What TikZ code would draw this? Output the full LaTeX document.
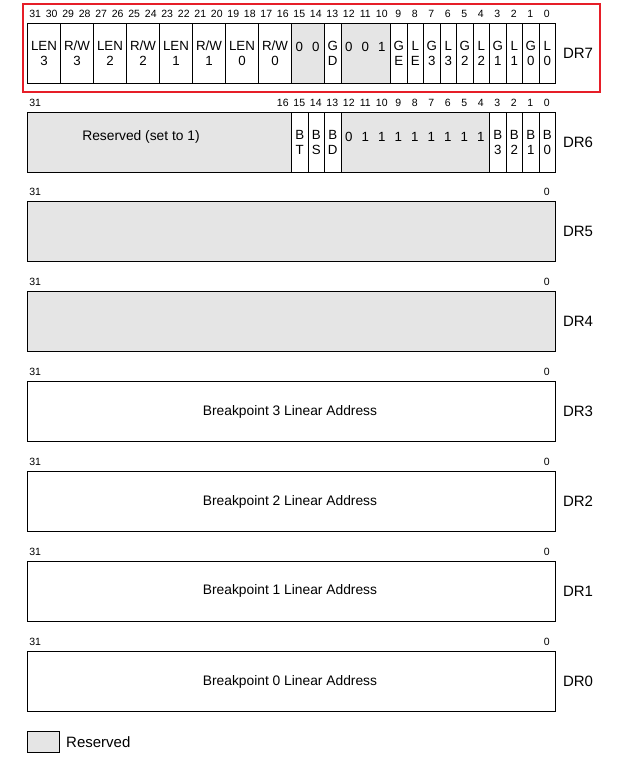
\documentclass[tikz,border=0pt]{standalone}
\usepackage{fontspec}
\setmainfont{Liberation Sans}
\definecolor{resgray}{RGB}{229,229,229}
\definecolor{hired}{RGB}{230,30,40}
\tikzset{
  fld/.style={draw=black, line width=0.9pt, inner sep=0pt, anchor=north west, font=\fontsize{13.3}{15}\selectfont, align=center},
  wfld/.style={fld, fill=white},
  gfld/.style={fld, fill=resgray},
  bitnum/.style={inner sep=0pt, font=\fontsize{10.5}{12}\selectfont},
  ftext/.style={inner sep=0pt, font=\fontsize{13.3}{15}\selectfont},
  longtext/.style={inner sep=0pt, font=\fontsize{13.8}{16}\selectfont},
  reglabel/.style={inner sep=0pt, font=\fontsize{15}{17}\selectfont},
  hilite/.style={draw=hired, line width=2pt}
}
\newcommand{\fld}[6]{%
  \pgfmathsetmacro\fxl{555-16.5*(#2+1)}%
  \pgfmathsetmacro\fw{16.5*(#2-#3+1)}%
  \node[#5, minimum width=\fw pt, minimum height=60pt] (#1) at (\fxl,#4) {#6};%
}
\newcommand{\bitlbl}[3]{% name, bit, y
  \pgfmathsetmacro\bcx{555-16.5*#2-8.25}%
  \node[bitnum] (#1) at (\bcx,#3) {#2};%
}
\newcommand{\bittxt}[4]{% name, bit, y, text
  \pgfmathsetmacro\bcx{555-16.5*#2-8.25}%
  \node[ftext] (#1) at (\bcx,#3) {#4};%
}
\begin{document}
\begin{tikzpicture}[x=1pt,y=-1pt]
\useasboundingbox (0,0) rectangle (632,758);

% ---------------- DR7 ----------------
\fld{d7len3}{31}{30}{23}{wfld}{LEN\\3}
\fld{d7rw3}{29}{28}{23}{wfld}{R/W\\3}
\fld{d7len2}{27}{26}{23}{wfld}{LEN\\2}
\fld{d7rw2}{25}{24}{23}{wfld}{R/W\\2}
\fld{d7len1}{23}{22}{23}{wfld}{LEN\\1}
\fld{d7rw1}{21}{20}{23}{wfld}{R/W\\1}
\fld{d7len0}{19}{18}{23}{wfld}{LEN\\0}
\fld{d7rw0}{17}{16}{23}{wfld}{R/W\\0}
\fld{d7res1}{15}{14}{23}{gfld}{}
\fld{d7gd}{13}{13}{23}{wfld}{G\\D}
\fld{d7res2}{12}{10}{23}{gfld}{}
\fld{d7ge}{9}{9}{23}{wfld}{G\\E}
\fld{d7le}{8}{8}{23}{wfld}{L\\E}
\fld{d7g3}{7}{7}{23}{wfld}{G\\3}
\fld{d7l3}{6}{6}{23}{wfld}{L\\3}
\fld{d7g2}{5}{5}{23}{wfld}{G\\2}
\fld{d7l2}{4}{4}{23}{wfld}{L\\2}
\fld{d7g1}{3}{3}{23}{wfld}{G\\1}
\fld{d7l1}{2}{2}{23}{wfld}{L\\1}
\fld{d7g0}{1}{1}{23}{wfld}{G\\0}
\fld{d7l0}{0}{0}{23}{wfld}{L\\0}
\bittxt{d7v15}{15}{47}{0}
\bittxt{d7v14}{14}{47}{0}
\bittxt{d7v12}{12}{47}{0}
\bittxt{d7v11}{11}{47}{0}
\bittxt{d7v10}{10}{47}{1}
\foreach \b in {0,...,31} { \bitlbl{d7n\b}{\b}{14} }
\node[reglabel] (dr7) at (578,53) {DR7};
\draw[hilite] (23,3.5) rectangle (600,91.5);

% ---------------- DR6 ----------------
\fld{d6res}{31}{16}{112}{gfld}{}
\fld{d6bt}{15}{15}{112}{wfld}{B\\T}
\fld{d6bs}{14}{14}{112}{wfld}{B\\S}
\fld{d6bd}{13}{13}{112}{wfld}{B\\D}
\fld{d6res2}{12}{4}{112}{gfld}{}
\fld{d6b3}{3}{3}{112}{wfld}{B\\3}
\fld{d6b2}{2}{2}{112}{wfld}{B\\2}
\fld{d6b1}{1}{1}{112}{wfld}{B\\1}
\fld{d6b0}{0}{0}{112}{wfld}{B\\0}
\node[longtext] (d6restext) at (141,137) {Reserved (set to 1)};
\bittxt{d6v12}{12}{137}{0}
\foreach \b in {4,...,11} { \bittxt{d6v\b}{\b}{137}{1} }
\bitlbl{d6n31}{31}{102.5}
\foreach \b in {0,...,16} { \bitlbl{d6n\b}{\b}{102.5} }
\node[reglabel] (dr6) at (578,142) {DR6};

% ---------------- DR5 .. DR0 ----------------
\fld{d5box}{31}{0}{201}{gfld}{}
\bitlbl{d5n31}{31}{191.5}\bitlbl{d5n0}{0}{191.5}
\node[reglabel] (dr5) at (578,231) {DR5};

\fld{d4box}{31}{0}{291}{gfld}{}
\bitlbl{d4n31}{31}{281.5}\bitlbl{d4n0}{0}{281.5}
\node[reglabel] (dr4) at (578,321) {DR4};

\fld{d3box}{31}{0}{381}{wfld}{}
\node[longtext] (d3text) at (290,411.5) {Breakpoint 3 Linear Address};
\bitlbl{d3n31}{31}{371.5}\bitlbl{d3n0}{0}{371.5}
\node[reglabel] (dr3) at (578,411) {DR3};

\fld{d2box}{31}{0}{471}{wfld}{}
\node[longtext] (d2text) at (290,501.5) {Breakpoint 2 Linear Address};
\bitlbl{d2n31}{31}{461.5}\bitlbl{d2n0}{0}{461.5}
\node[reglabel] (dr2) at (578,501) {DR2};

\fld{d1box}{31}{0}{561}{wfld}{}
\node[longtext] (d1text) at (290,591) {Breakpoint 1 Linear Address};
\bitlbl{d1n31}{31}{551.5}\bitlbl{d1n0}{0}{551.5}
\node[reglabel] (dr1) at (578,591) {DR1};

\fld{d0box}{31}{0}{651}{wfld}{}
\node[longtext] (d0text) at (290,681.5) {Breakpoint 0 Linear Address};
\bitlbl{d0n31}{31}{641.5}\bitlbl{d0n0}{0}{641.5}
\node[reglabel] (dr0) at (578,681) {DR0};

% ---------------- legend ----------------
\node[draw=black, line width=0.9pt, fill=resgray, inner sep=0pt, minimum width=32pt, minimum height=21pt, anchor=north west] (legbox) at (27,731) {};
\node[reglabel, anchor=west] (legtext) at (66,742) {Reserved};
\end{tikzpicture}
\end{document}
